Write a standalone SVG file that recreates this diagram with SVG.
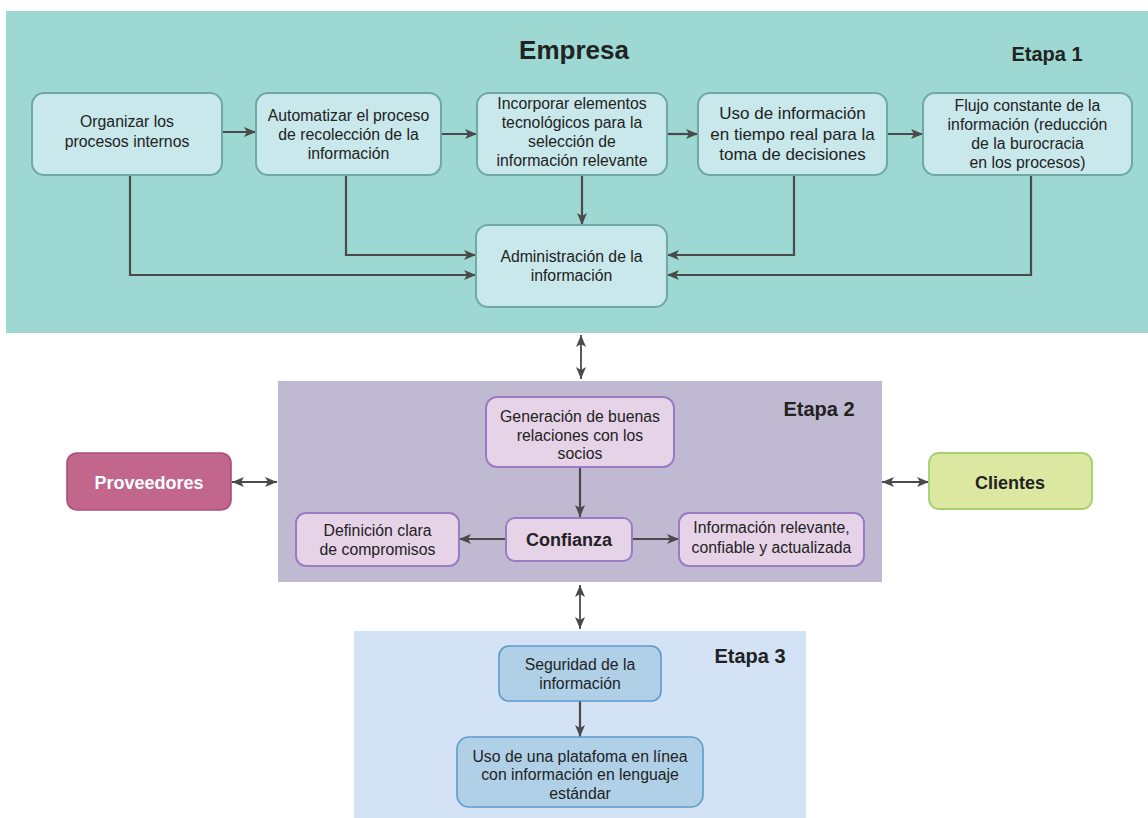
<svg xmlns="http://www.w3.org/2000/svg" width="1148" height="818" viewBox="0 0 1148 818">
<defs>
<style>
text{font-family:"Liberation Sans",Arial,sans-serif;fill:#222;text-anchor:middle}
.t{font-size:15.8px}
.tb{font-size:17px}
.h{font-weight:bold;font-size:20px}
.n1{fill:#c9e8eb;stroke:#6ea9a6;stroke-width:2}
.n2{fill:#e6d3e8;stroke:#9a7cc4;stroke-width:2}
.n3{fill:#b0d0e8;stroke:#5e9bcb;stroke-width:1.6}
.c{fill:none;stroke:#4a4a4a;stroke-width:2.2}
.cd{fill:none;stroke:#4a4a4a;stroke-width:1.8}
</style>
<marker id="ah" viewBox="0 0 12 10" refX="12" refY="5" markerWidth="12" markerHeight="10" orient="auto-start-reverse" markerUnits="userSpaceOnUse">
<path d="M0,0 L12,5 L0,10 L3,5 z" fill="#4a4a4a"/>
</marker>
</defs>

<g id="panels">
<rect x="6" y="11" width="1142" height="322" fill="#9dd8d3"/>
<rect x="278" y="381" width="604" height="201" fill="#bfb9d1"/>
<rect x="354" y="631" width="452" height="187" fill="#d3e2f4"/>
<text x="574" y="59" style="font-weight:bold;font-size:26px">Empresa</text>
<text class="h" x="1047" y="61">Etapa 1</text>
<text class="h" x="819" y="416">Etapa 2</text>
<text class="h" x="750" y="663">Etapa 3</text>
</g>

<g id="connectors">
<path class="c" d="M222,132 H256" marker-end="url(#ah)"/>
<path class="c" d="M441,134 H477" marker-end="url(#ah)"/>
<path class="c" d="M667,134 H698" marker-end="url(#ah)"/>
<path class="c" d="M887,134 H923" marker-end="url(#ah)"/>
<path class="c" d="M582,175 V225" marker-end="url(#ah)"/>
<path class="c" d="M346,175 V255 H476" marker-end="url(#ah)"/>
<path class="c" d="M130,175 V275 H476" marker-end="url(#ah)"/>
<path class="c" d="M794,175 V255 H667" marker-end="url(#ah)"/>
<path class="c" d="M1031,175 V275 H667" marker-end="url(#ah)"/>
<path class="cd" d="M581,335 V379" marker-start="url(#ah)" marker-end="url(#ah)"/>
<path class="c" d="M580,467 V517" marker-end="url(#ah)"/>
<path class="c" d="M506,539 H459" marker-end="url(#ah)"/>
<path class="c" d="M632,539 H679" marker-end="url(#ah)"/>
<path class="cd" d="M232,482 H277" marker-start="url(#ah)" marker-end="url(#ah)"/>
<path class="cd" d="M882,482 H929" marker-start="url(#ah)" marker-end="url(#ah)"/>
<path class="cd" d="M580,585 V629" marker-start="url(#ah)" marker-end="url(#ah)"/>
<path class="c" d="M580,701 V737" marker-end="url(#ah)"/>
</g>

<g id="n-organizar">
<rect class="n1" x="32" y="93" width="190" height="82" rx="12"/>
<text class="t" x="127" y="126.5">Organizar los</text>
<text class="t" x="127" y="146.5">procesos internos</text>
</g>
<g id="n-automatizar">
<rect class="n1" x="256" y="93" width="185" height="82" rx="12"/>
<text class="t" x="348.5" y="120.5">Automatizar el proceso</text>
<text class="t" x="348.5" y="139.5">de recolección de la</text>
<text class="t" x="348.5" y="158.5">información</text>
</g>
<g id="n-incorporar">
<rect class="n1" x="477" y="93" width="190" height="82" rx="12"/>
<text class="t" x="572" y="108.5">Incorporar elementos</text>
<text class="t" x="572" y="127.8">tecnológicos para la</text>
<text class="t" x="572" y="147">selección de</text>
<text class="t" x="572" y="166.3">información relevante</text>
</g>
<g id="n-uso-tiempo-real">
<rect class="n1" x="698" y="93" width="189" height="82" rx="12"/>
<text class="tb" x="792.5" y="119">Uso de información</text>
<text class="tb" x="792.5" y="140">en tiempo real para la</text>
<text class="tb" x="792.5" y="160">toma de decisiones</text>
</g>
<g id="n-flujo">
<rect class="n1" x="923" y="93" width="209" height="82" rx="12"/>
<text class="t" x="1027.5" y="110.5">Flujo constante de la</text>
<text class="t" x="1027.5" y="129.5">información (reducción</text>
<text class="t" x="1027.5" y="149">de la burocracia</text>
<text class="t" x="1027.5" y="168">en los procesos)</text>
</g>
<g id="n-administracion">
<rect class="n1" x="476" y="225" width="191" height="82" rx="12"/>
<text class="t" x="571.5" y="261.5">Administración de la</text>
<text class="t" x="571.5" y="280.5">información</text>
</g>

<g id="n-generacion">
<rect class="n2" x="486" y="397" width="188" height="70" rx="11"/>
<text class="t" x="580" y="421.5">Generación de buenas</text>
<text class="t" x="580" y="440.5">relaciones con los</text>
<text class="t" x="580" y="459">socios</text>
</g>
<g id="n-confianza">
<rect class="n2" x="506" y="518" width="126" height="43" rx="9"/>
<text x="569" y="546" style="font-weight:bold;font-size:18px">Confianza</text>
</g>
<g id="n-definicion">
<rect class="n2" x="296" y="513" width="163" height="53" rx="10"/>
<text class="t" x="377.5" y="535.5">Definición clara</text>
<text class="t" x="377.5" y="554.5">de compromisos</text>
</g>
<g id="n-informacion-relevante">
<rect class="n2" x="679" y="513" width="185" height="53" rx="10"/>
<text class="t" x="771.5" y="532.5">Información relevante,</text>
<text class="t" x="771.5" y="552.5">confiable y actualizada</text>
</g>
<g id="n-proveedores">
<rect x="67" y="453" width="164" height="57" rx="10" fill="#c2668c" stroke="#a84f7b" stroke-width="1.6"/>
<text x="149" y="488.5" style="font-weight:bold;font-size:18px;fill:#fff">Proveedores</text>
</g>
<g id="n-clientes">
<rect x="929" y="453" width="163" height="56" rx="10" fill="#dce8a2" stroke="#a6d070" stroke-width="1.8"/>
<text x="1010" y="488.5" style="font-weight:bold;font-size:18px">Clientes</text>
</g>

<g id="n-seguridad">
<rect class="n3" x="499" y="646" width="162" height="55" rx="10"/>
<text class="t" x="580" y="669.5">Seguridad de la</text>
<text class="t" x="580" y="688.5">información</text>
</g>
<g id="n-plataforma">
<rect class="n3" x="457" y="737" width="246" height="70" rx="12"/>
<text class="t" x="580" y="761.5">Uso de una platafoma en línea</text>
<text class="t" x="580" y="779.5">con información en lenguaje</text>
<text class="t" x="580" y="798.5">estándar</text>
</g>
</svg>
